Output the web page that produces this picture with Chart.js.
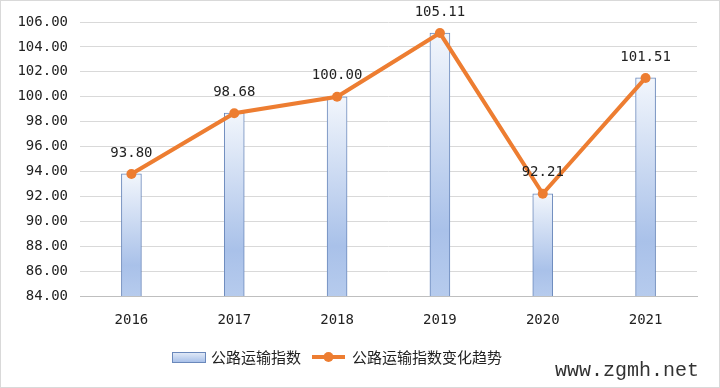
<!DOCTYPE html>
<html>
<head>
<meta charset="utf-8">
<script src="https://cdn.jsdelivr.net/npm/chart.js@4"></script>
<style>
  html, body { margin: 0; padding: 0; background: #fff; }
  #wrap { width: 720px; height: 388px; }
</style>
</head>
<body>
<div id="wrap"><canvas id="roadChart" width="720" height="388"></canvas></div>
<script>
// Chart data
const years = ["2016", "2017", "2018", "2019", "2020", "2021"];
const roadIndex = [93.80, 98.68, 100.00, 105.11, 92.21, 101.51];
const barLabel = "公路运输指数";
const lineLabel = "公路运输指数变化趋势";
const yMin = 84;
const yMax = 106;
const yStep = 2;

const tickFont = { family: "'DejaVu Sans Mono', monospace", size: 14 };
const cjkFont = "15px 'Noto Sans CJK SC', sans-serif";

// Light-to-blue gradient for each bar, from its top down to the axis
function barGradient(context) {
  const chart = context.chart;
  const area = chart.chartArea;
  if (!area) return "#b4c7e7";
  const value = context.raw;
  const top = chart.scales.y.getPixelForValue(value);
  const g = chart.ctx.createLinearGradient(0, top, 0, area.bottom);
  g.addColorStop(0, "#f2f6fc");
  g.addColorStop(0.75, "#a9c1e9");
  g.addColorStop(1, "#b6cbed");
  return g;
}

// Value labels above the line points
const valueLabels = {
  id: "valueLabels",
  afterDatasetsDraw(chart) {
    const ctx = chart.ctx;
    const meta = chart.getDatasetMeta(0);
    ctx.save();
    ctx.font = "14px 'DejaVu Sans Mono', monospace";
    ctx.fillStyle = "#222";
    ctx.textAlign = "center";
    ctx.textBaseline = "middle";
    meta.data.forEach((pt, i) => {
      ctx.fillText(roadIndex[i].toFixed(2), pt.x, pt.y - 21);
    });
    ctx.restore();
  },
};

// Legend, watermark and outer frame
const extras = {
  id: "extras",
  afterDraw(chart) {
    const ctx = chart.ctx;
    ctx.save();
    // frame
    ctx.strokeStyle = "#d9d9d9";
    ctx.lineWidth = 1;
    ctx.strokeRect(0.5, 0.5, 719, 387);

    const ly = 357;
    // bar swatch
    const g = ctx.createLinearGradient(0, ly - 5, 0, ly + 5);
    g.addColorStop(0, "#e6edf8");
    g.addColorStop(1, "#a9c1e9");
    ctx.fillStyle = g;
    ctx.fillRect(172, ly - 5, 33, 10);
    ctx.strokeStyle = "#6a88bb";
    ctx.strokeRect(172.5, ly - 4.5, 33, 10);

    ctx.font = cjkFont;
    ctx.fillStyle = "#222";
    ctx.textBaseline = "middle";
    ctx.textAlign = "left";
    ctx.fillText(barLabel, 211, ly);

    // line swatch
    ctx.strokeStyle = "#ed7d31";
    ctx.lineWidth = 4;
    ctx.beginPath();
    ctx.moveTo(312, ly);
    ctx.lineTo(345, ly);
    ctx.stroke();
    ctx.fillStyle = "#ed7d31";
    ctx.beginPath();
    ctx.arc(328.5, ly, 5, 0, Math.PI * 2);
    ctx.fill();

    ctx.fillStyle = "#222";
    ctx.fillText(lineLabel, 352, ly);

    // watermark
    ctx.font = "20px 'Liberation Mono', monospace";
    ctx.fillStyle = "#333";
    ctx.fillText("www.zgmh.net", 555, 371);
    ctx.restore();
  },
};

document.addEventListener("DOMContentLoaded", () => {
  const ctx = document.getElementById("roadChart").getContext("2d");
  new Chart(ctx, {
    data: {
      labels: years,
      datasets: [
        {
          type: "line",
          label: lineLabel,
          data: roadIndex,
          borderColor: "#ed7d31",
          backgroundColor: "#ed7d31",
          borderWidth: 4,
          pointRadius: 5,
          pointHoverRadius: 5,
          pointBorderWidth: 0,
          tension: 0,
          order: 0,
        },
        {
          type: "bar",
          label: barLabel,
          data: roadIndex,
          backgroundColor: barGradient,
          borderColor: "#6a88bb",
          borderWidth: 1,
          borderSkipped: "bottom",
          barThickness: 20,
          order: 1,
        },
      ],
    },
    options: {
      responsive: false,
      animation: false,
      layout: { padding: { top: 22, right: 23, bottom: 62, left: 0 } },
      plugins: {
        legend: { display: false },
        tooltip: { enabled: false },
      },
      scales: {
        x: {
          grid: { display: false, drawTicks: false },
          border: { color: "#bfbfbf", width: 1 },
          ticks: { color: "#222", font: tickFont, padding: 16 },
          afterFit(scale) { scale.height = 30; },
        },
        y: {
          min: yMin,
          max: yMax,
          ticks: {
            stepSize: yStep,
            color: "#222",
            font: tickFont,
            padding: 12,
            callback: (v) => Number(v).toFixed(2),
          },
          grid: { color: "#d9d9d9", lineWidth: 1, drawTicks: false },
          border: { display: false },
          afterFit(scale) { scale.width = 80; },
        },
      },
    },
    plugins: [valueLabels, extras],
  });
});
</script>
</body>
</html>
